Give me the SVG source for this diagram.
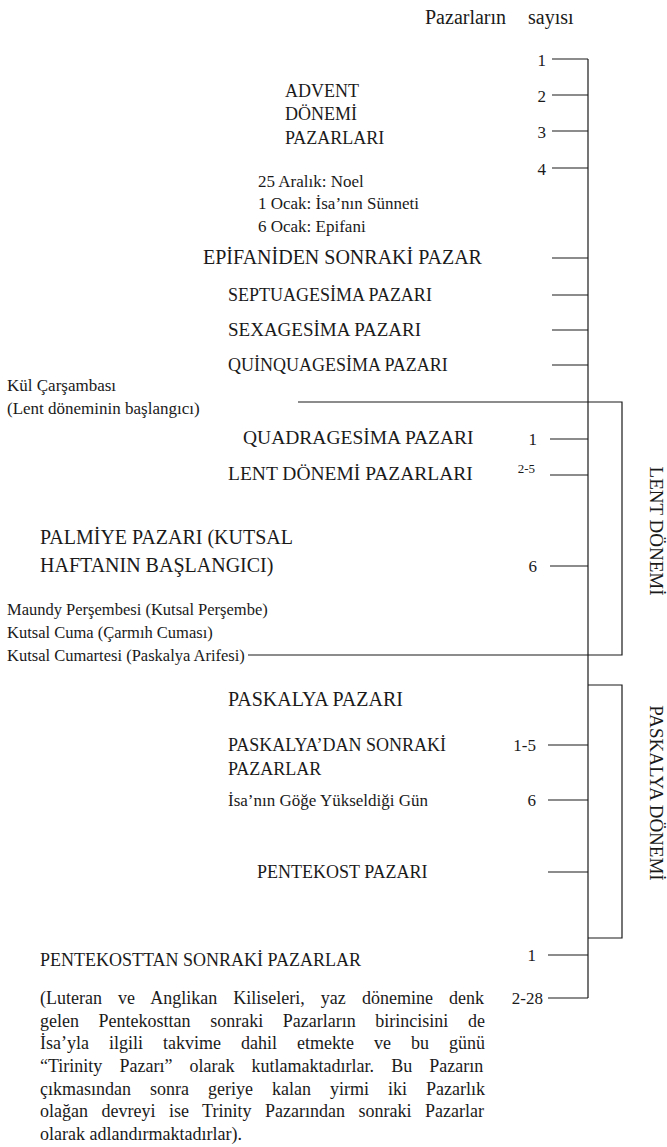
<svg xmlns="http://www.w3.org/2000/svg" width="667" height="1147" viewBox="0 0 667 1147">
<style>
text{font-family:"Liberation Serif","Times New Roman",serif;fill:#1a1a1a}
.l{font-size:18px}
.s{font-size:17px}
.t{font-size:16.5px}
.n{font-size:17px;text-anchor:end}
.v{font-size:19px;text-anchor:middle;dominant-baseline:central}
.p{font-size:18px}
.c line,.c polyline{stroke:#1a1a1a;stroke-width:1.2;fill:none}
</style>
<rect width="667" height="1147" fill="#fff"/>
<g id="header">
<text x="425" y="24" style="font-size:20px">Pazarların</text>
<text x="528" y="24" style="font-size:20px">sayısı</text>
</g>

<g id="advent">
<text class="l" x="285" y="97">ADVENT</text>
<text class="l" x="285" y="120">DÖNEMİ</text>
<text class="l" x="285" y="144">PAZARLARI</text>
<text class="n" x="546" y="66">1</text>
<text class="n" x="546" y="102">2</text>
<text class="n" x="546" y="138">3</text>
<text class="n" x="546" y="175">4</text>
</g>
<g id="dates">
<text class="s" x="258" y="187">25 Aralık: Noel</text>
<text class="s" x="258" y="209">1 Ocak: İsa’nın Sünneti</text>
<text class="s" x="258" y="232">6 Ocak: Epifani</text>
</g>
<g id="epifani"><text class="l" x="203" y="264" style="font-size:20px">EPİFANİDEN SONRAKİ PAZAR</text></g>
<g id="septuagesima"><text class="l" x="228" y="301">SEPTUAGESİMA PAZARI</text></g>
<g id="sexagesima"><text class="l" x="228" y="336" style="font-size:19px">SEXAGESİMA PAZARI</text></g>
<g id="quinquagesima"><text class="l" x="228" y="371">QUİNQUAGESİMA PAZARI</text></g>
<g id="kul">
<text class="s" x="7" y="391">Kül Çarşambası</text>
<text class="s" x="7" y="414">(Lent döneminin başlangıcı)</text>
</g>
<g id="quadragesima">
<text class="l" x="243" y="444" style="font-size:19.5px">QUADRAGESİMA PAZARI</text>
<text class="n" x="537" y="445">1</text>
</g>
<g id="lent-pazarlari">
<text class="l" x="228" y="480" style="font-size:19.5px">LENT DÖNEMİ PAZARLARI</text>
<text class="n" x="535" y="473" style="font-size:13px">2-5</text>
</g>
<g id="palmiye">
<text class="l" x="40" y="544" style="font-size:20px">PALMİYE PAZARI (KUTSAL</text>
<text class="l" x="40" y="572" style="font-size:20px">HAFTANIN BAŞLANGICI)</text>
<text class="n" x="537" y="572">6</text>
</g>
<g id="kutsal-hafta">
<text class="t" x="7" y="615">Maundy Perşembesi (Kutsal Perşembe)</text>
<text class="t" x="7" y="638">Kutsal Cuma (Çarmıh Cuması)</text>
<text class="t" x="7" y="661">Kutsal Cumartesi (Paskalya Arifesi)</text>
</g>
<g id="paskalya"><text class="l" x="228" y="706" style="font-size:20px">PASKALYA PAZARI</text></g>
<g id="paskalyadan">
<text class="l" x="228" y="751">PASKALYA’DAN SONRAKİ</text>
<text class="l" x="228" y="775">PAZARLAR</text>
<text class="n" x="536" y="751">1-5</text>
</g>
<g id="yukselis">
<text class="s" x="228" y="806">İsa’nın Göğe Yükseldiği Gün</text>
<text class="n" x="536" y="806">6</text>
</g>
<g id="pentekost"><text class="l" x="257" y="878">PENTEKOST PAZARI</text></g>
<g id="pentekosttan">
<text class="l" x="40" y="966">PENTEKOSTTAN SONRAKİ PAZARLAR</text>
<text class="n" x="536" y="961">1</text>
<text class="n" x="543" y="1004">2-28</text>
</g>
<g id="note">
<text class="p" x="40" y="1004" style="word-spacing:11.6px">(Luteran ve Anglikan Kiliseleri, yaz dönemine denk</text>
<text class="p" x="40" y="1027" style="word-spacing:15.1px">gelen Pentekosttan sonraki Pazarların birincisini de</text>
<text class="p" x="40" y="1049" style="word-spacing:15.5px">İsa’yla ilgili takvime dahil etmekte ve bu günü</text>
<text class="p" x="40" y="1072" style="word-spacing:12.6px">“Tirinity Pazarı” olarak kutlamaktadırlar. Bu Pazarın</text>
<text class="p" x="40" y="1095" style="word-spacing:14.5px">çıkmasından sonra geriye kalan yirmi iki Pazarlık</text>
<text class="p" x="40" y="1117" style="word-spacing:9px">olağan devreyi ise Trinity Pazarından sonraki Pazarlar</text>
<text class="p" x="40" y="1140">olarak adlandırmaktadırlar).</text>
</g>
<g id="lent-donemi"><text class="v" transform="translate(656,531) rotate(90)">LENT DÖNEMİ</text></g>
<g id="paskalya-donemi"><text class="v" transform="translate(656,793) rotate(90)">PASKALYA DÖNEMİ</text></g>

<g id="connectors" class="c">
<line x1="588" y1="59" x2="588" y2="998"/>
<line x1="552" y1="59" x2="588" y2="59"/>
<line x1="552" y1="95" x2="588" y2="95"/>
<line x1="552" y1="131" x2="588" y2="131"/>
<line x1="552" y1="168" x2="588" y2="168"/>
<line x1="552" y1="258" x2="588" y2="258"/>
<line x1="552" y1="295" x2="588" y2="295"/>
<line x1="552" y1="330" x2="588" y2="330"/>
<line x1="552" y1="365" x2="588" y2="365"/>
<polyline points="298,402 622,402 622,655 248,655"/>
<line x1="550" y1="439" x2="588" y2="439"/>
<line x1="550" y1="475" x2="588" y2="475"/>
<line x1="550" y1="566" x2="588" y2="566"/>
<polyline points="588,685 622,685 622,938 588,938"/>
<line x1="548" y1="745" x2="588" y2="745"/>
<line x1="548" y1="800" x2="588" y2="800"/>
<line x1="548" y1="872" x2="588" y2="872"/>
<line x1="548" y1="955" x2="588" y2="955"/>
<line x1="548" y1="998" x2="588" y2="998"/>
</g>
</svg>
